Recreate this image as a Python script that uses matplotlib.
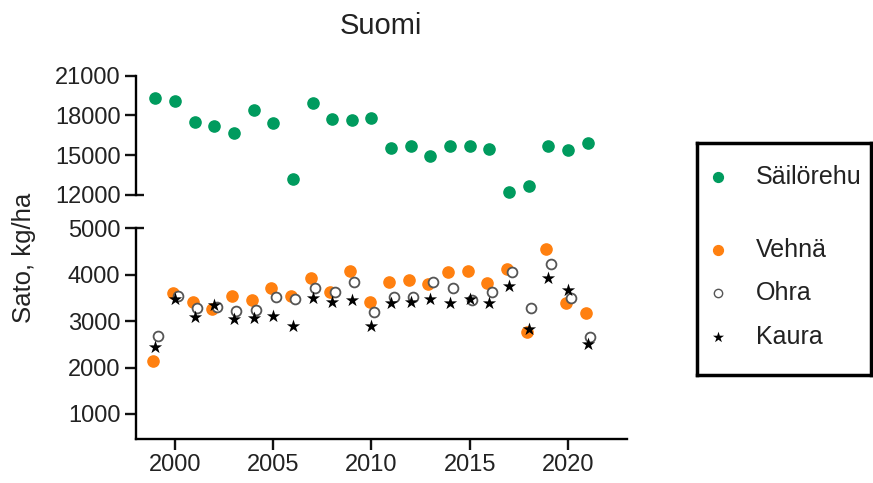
import matplotlib
matplotlib.use('Agg')
import matplotlib.pyplot as plt
import matplotlib.transforms as mtransforms

plt.rcParams['font.family'] = ['Liberation Sans', 'DejaVu Sans']
plt.rcParams['text.color'] = '#222222'
plt.rcParams['axes.labelcolor'] = '#222222'
plt.rcParams['xtick.color'] = '#111111'
plt.rcParams['ytick.color'] = '#111111'
plt.rcParams['xtick.labelcolor'] = '#222222'
plt.rcParams['ytick.labelcolor'] = '#222222'

# data, kg/ha
years = list(range(1999, 2022))
sailorehu = [19340, 19080, 17470, 17170, 16700, 18390, 17400, 13230, 18930, 17750,
             17630, 17830, 15550, 15660, 14970, 15680, 15660, 15480, 12230, 12690,
             15680, 15400, 15910]
vehna = [2140, 3600, 3410, 3260, 3540, 3450, 3720, 3550, 3920, 3630,
         4090, 3420, 3840, 3890, 3800, 4060, 4090, 3820, 4120, 2760,
         4550, 3400, 3180]
ohra = [2690, 3540, 3280, 3310, 3210, 3240, 3530, 3480, 3710, 3630,
        3850, 3190, 3510, 3510, 3840, 3720, 3450, 3620, 4060, 3290,
        4230, 3500, 2650]
kaura = [2440, 3480, 3080, 3350, 3040, 3060, 3100, 2900, 3500, 3410,
         3450, 2900, 3380, 3410, 3470, 3400, 3480, 3380, 3760, 2830,
         3930, 3670, 2500]

green = '#009B5E'
orange = '#FF8010'
grey = '#555555'

fig = plt.figure(figsize=(8.73, 4.83), dpi=100)
ax_top = fig.add_axes([0.1554, 0.5963, 0.5628, 0.2470])
ax_bot = fig.add_axes([0.1554, 0.0911, 0.5628, 0.4362])

fs = 17
for ax in (ax_top, ax_bot):
    ax.set_xlim(1998, 2023)
    for s in ('top', 'right'):
        ax.spines[s].set_visible(False)
    ax.spines['left'].set_linewidth(1.7)
    ax.spines['bottom'].set_linewidth(1.7)
    ax.tick_params(width=1.7, length=8, labelsize=fs, pad=3)

# upper part
ax_top.scatter(years, sailorehu, s=65, color=green, zorder=3, clip_on=False)
ax_top.set_ylim(12000, 21000)
ax_top.set_yticks([12000, 15000, 18000, 21000])
ax_top.spines['bottom'].set_visible(False)
ax_top.set_xticks([])

# lower part
x_v = [y - 0.1 for y in years]
x_o = [y + 0.13 for y in years]
ax_bot.scatter(x_v, vehna, s=65, color=orange, zorder=3)
ax_bot.scatter(x_o, ohra, s=50, facecolor='white', edgecolor=grey, linewidth=1.3, zorder=4)
ax_bot.scatter(years, kaura, s=100, marker='*', color='black', linewidth=0, zorder=5)
ax_bot.set_ylim(460, 5000)
ax_bot.set_yticks([1000, 2000, 3000, 4000, 5000])
ax_bot.set_xticks([2000, 2005, 2010, 2015, 2020])

# caps at the axis break
for ax, yv in ((ax_top, 12000), (ax_bot, 5000)):
    tr = mtransforms.blended_transform_factory(ax.transAxes, ax.transData)
    ax.plot([0, 0.017], [yv, yv], transform=tr, color='#111111', lw=1.7,
            clip_on=False, solid_capstyle='butt')

fig.text(381 / 873, 1 - 26 / 483, 'Suomi', ha='center', va='center', fontsize=21)
fig.text(24 / 873, 1 - 258 / 483, 'Sato, kg/ha', rotation=90, ha='center', va='center', fontsize=18.5)

# legend box
ax_leg = fig.add_axes([697 / 873, (483 - 375) / 483, 174 / 873, 232 / 483])
ax_leg.set_xlim(0, 1)
ax_leg.set_ylim(1, 0)
ax_leg.set_xticks([])
ax_leg.set_yticks([])
for s in ax_leg.spines.values():
    s.set_linewidth(2.5)
leg_y = [0.147, 0.461, 0.647, 0.836]
ax_leg.scatter([0.12], [leg_y[0]], s=50, color=green)
ax_leg.scatter([0.12], [leg_y[1]], s=50, color=orange)
ax_leg.scatter([0.12], [leg_y[2]], s=36, facecolor='white', edgecolor=grey, linewidth=1.0)
ax_leg.scatter([0.12], [leg_y[3]], s=70, marker='*', color='black', linewidth=0)
for yy, lab in zip(leg_y, ['Säilörehu', 'Vehnä', 'Ohra', 'Kaura']):
    ax_leg.text(0.34, yy, lab, va='center', ha='left', fontsize=18)

fig.savefig('out.png', dpi=100)
